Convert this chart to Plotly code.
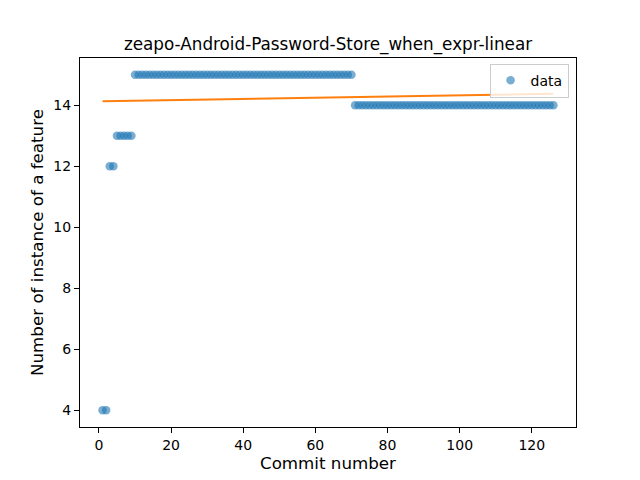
import numpy as np
import plotly.graph_objects as go

commits = list(range(1, 127))
counts = [4, 4, 12, 12, 13, 13, 13, 13, 13,
          15, 15, 15, 15, 15, 15, 15, 15, 15, 15,
          15, 15, 15, 15, 15, 15, 15, 15, 15, 15,
          15, 15, 15, 15, 15, 15, 15, 15, 15, 15,
          15, 15, 15, 15, 15, 15, 15, 15, 15, 15,
          15, 15, 15, 15, 15, 15, 15, 15, 15, 15,
          15, 15, 15, 15, 15, 15, 15, 15, 15, 15,
          15,
          14, 14, 14, 14, 14, 14, 14, 14, 14, 14,
          14, 14, 14, 14, 14, 14, 14, 14, 14, 14,
          14, 14, 14, 14, 14, 14, 14, 14, 14, 14,
          14, 14, 14, 14, 14, 14, 14, 14, 14, 14,
          14, 14, 14, 14, 14, 14, 14, 14, 14, 14,
          14, 14, 14, 14, 14, 14]
title = "zeapo-Android-Password-Store_when_expr-linear"
x_ticks = [0, 20, 40, 60, 80, 100, 120]
y_ticks = [4, 6, 8, 10, 12, 14]

xs = np.array(commits, dtype=float)
ys = np.array(counts, dtype=float)
slope, intercept = np.polyfit(xs, ys, 1)
fit = slope * xs + intercept

font = "DejaVu Sans"
fig = go.Figure()
fig.add_trace(go.Scatter(
    x=commits, y=counts, mode="markers", name="data",
    marker=dict(color="rgba(31,119,180,0.6)", size=8.5, line=dict(width=0)),
))
fig.add_trace(go.Scatter(
    x=commits, y=fit.tolist(), mode="lines", showlegend=False,
    line=dict(color="#ff7f0e", width=2),
))

xmin, xmax = min(commits), max(commits)
xpad = 0.05 * (xmax - xmin)
ymin, ymax = min(counts), max(counts)
ypad = 0.05 * (ymax - ymin)

axis_common = dict(
    showline=True, linecolor="black", linewidth=1, mirror=True,
    ticks="outside", ticklen=5, tickwidth=1, tickcolor="black",
    showgrid=False, zeroline=False,
    tickfont=dict(family=font, size=14, color="black"),
)
fig.update_layout(
    width=640, height=480,
    margin=dict(l=80, r=64, t=58, b=53),
    paper_bgcolor="white", plot_bgcolor="white",
    font=dict(family=font, color="black"),
    title=dict(text=title, x=0.5, xanchor="center", xref="paper",
               y=1, yref="paper", yanchor="bottom", pad=dict(b=8),
               font=dict(family=font, size=16.8, color="black")),
    xaxis=dict(range=[xmin - xpad, xmax + xpad], tickvals=x_ticks,
               title=dict(text="Commit number", font=dict(size=16.7), standoff=5),
               **axis_common),
    yaxis=dict(range=[ymin - ypad, ymax + ypad], tickvals=y_ticks,
               title=dict(text="Number of instance of a feature", font=dict(size=16.7), standoff=5),
               **axis_common),
    legend=dict(x=0.985, y=0.985, xanchor="right", yanchor="top",
                bgcolor="rgba(255,255,255,0.8)", bordercolor="#cccccc", borderwidth=1,
                font=dict(family=font, size=14), tracegroupgap=0, itemwidth=30),
    showlegend=True,
)
fig.write_html("out.html")
